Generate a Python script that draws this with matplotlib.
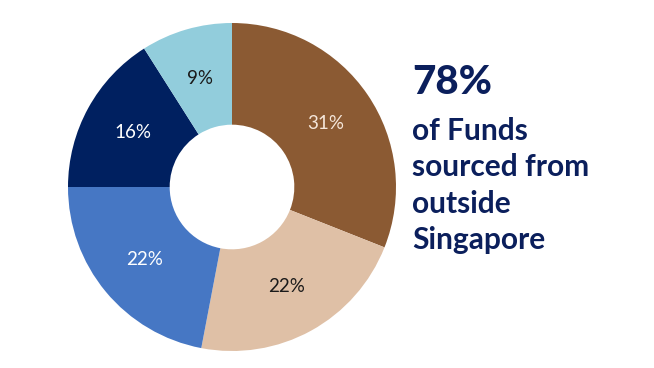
import matplotlib
matplotlib.use("Agg")
from matplotlib import pyplot as plt

shares = [31, 22, 22, 16, 9]
labels = ["31%", "22%", "22%", "16%", "9%"]
colors = ["#8B5A33", "#DFC0A6", "#4677C4", "#002060", "#92CDDC"]
label_colors = ["#F5E6DA", "#1a1a1a", "#FFFFFF", "#FFFFFF", "#1a1a1a"]

headline = "78%"
caption = ["of Funds", "sourced from", "outside", "Singapore"]

plt.rcParams['font.family'] = ['Lato', 'DejaVu Sans']

fig = plt.figure(figsize=(6.54, 3.68), dpi=100)
W, H = 654, 368
cx, cy, R = 232, 187, 164
ax = fig.add_axes([(cx - R) / W, 1 - (cy + R) / H, 2 * R / W, 2 * R / H])

wedges, texts = ax.pie(shares, colors=colors, startangle=90, counterclock=False,
                       labels=labels, labeldistance=0.69,
                       wedgeprops=dict(width=0.62, edgecolor="none"),
                       textprops=dict(fontsize=13.5))
for t, c in zip(texts, label_colors):
    t.set_color(c)
    t.set_ha("center")
    t.set_va("center")
ax.set_xlim(-1, 1)
ax.set_ylim(-1, 1)
ax.set_aspect("equal")

navy = "#0B1F5C"
fig.text(412 / W, 1 - 82 / H, headline, fontsize=29, fontweight="black",
         color=navy, va="center", ha="left")
for i, line in enumerate(caption):
    fig.text(412 / W, 1 - (131 + i * 36.5) / H, line, fontsize=21.5,
             fontweight="bold", color=navy, va="center", ha="left")

fig.savefig("out.png", dpi=100)
